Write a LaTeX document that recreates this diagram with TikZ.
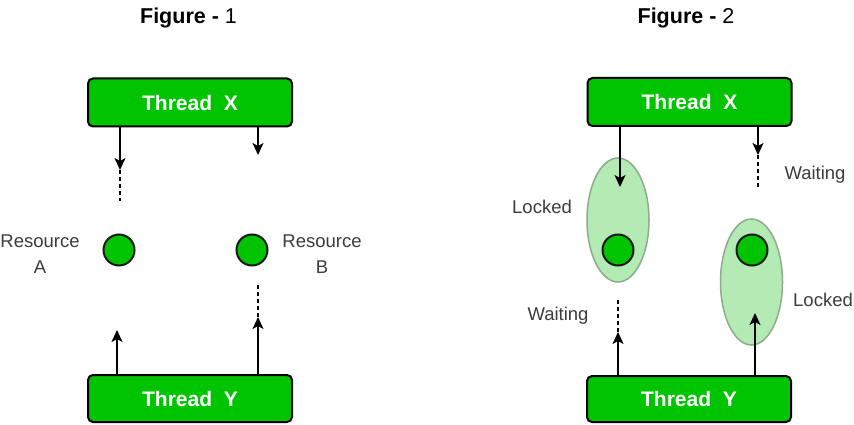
\documentclass[tikz,border=0pt]{standalone}
\usepackage{fontspec}
\setmainfont{Liberation Sans}
\usetikzlibrary{shapes.geometric,arrows.meta}
\definecolor{boxgreen}{RGB}{0,196,0}
\definecolor{ellfill}{RGB}{180,234,180}
\definecolor{elldraw}{RGB}{140,172,140}
\definecolor{labgray}{RGB}{60,60,60}
\tikzset{
  threadbox/.style={draw=black, line width=2pt, fill=boxgreen, rounded corners=5pt,
    minimum width=204pt, minimum height=48pt, inner sep=0pt, text=white,
    font=\fontsize{21}{25}\selectfont\bfseries},
  resdot/.style={circle, draw=black!90, line width=2pt, fill=boxgreen, minimum size=31pt, inner sep=0pt},
  lockell/.style={ellipse, draw=elldraw, line width=1.5pt, fill=ellfill, inner sep=0pt},
  arr/.style={line width=1.3pt, -{Stealth[length=12pt,width=11pt,inset=3pt]}},
  dashline/.style={line width=1.2pt, dash pattern=on 4pt off 3pt},
  lbl/.style={text=labgray, font=\fontsize{18.5}{26}\selectfont, align=center, inner sep=0pt},
  title/.style={text=black, font=\fontsize{21.5}{25}\selectfont, inner sep=0pt}
}
\begin{document}
\begin{tikzpicture}[x=1pt,y=-1pt]
\useasboundingbox (0,0) rectangle (854,425);
\fill[white] (0,0) rectangle (854,425);
% titles
\node[title] (t1) at (188.5,18) {\textbf{Figure -} 1};
\node[title] (t2) at (686,18) {\textbf{Figure -} 2};
% ---------- Figure 1 ----------
\node[threadbox] (tx1) at (190,102.5) {Thread\ \ X};
\node[threadbox, minimum height=47pt] (ty1) at (190,398.5) {Thread\ \ Y};
\node[resdot] (ra) at (119,250) {};
\node[resdot] (rb) at (252,250) {};
\node[lbl] (la) at (40,254) {Resource\\A};
\node[lbl] (lb) at (322,254) {Resource\\B};
\coordinate (a1) at (120,170);
\coordinate (a1e) at (120,201);
\coordinate (a2) at (258,155);
\coordinate (a3) at (117,330);
\coordinate (a4) at (258,317);
\coordinate (a4e) at (258,282);
\draw[arr] (tx1.south -| a1) -- (a1);
\draw[dashline] (a1) -- (a1e);
\draw[arr] (tx1.south -| a2) -- (a2);
\draw[arr] (ty1.north -| a3) -- (a3);
\draw[arr] (ty1.north -| a4) -- (a4);
\draw[dashline] (a4) -- (a4e);
% ---------- Figure 2 ----------
\node[threadbox] (tx2) at (689.5,102) {Thread\ \ X};
\node[threadbox, minimum height=46pt] (ty2) at (689,399) {Thread\ \ Y};
\node[lockell, minimum width=62pt, minimum height=124pt] (e1) at (618,220) {};
\node[lockell, minimum width=62pt, minimum height=126pt] (e2) at (751.5,282) {};
\node[resdot] (rc) at (618,250) {};
\node[resdot] (rd) at (752,250) {};
\node[lbl] (l1) at (542,207) {Locked};
\node[lbl] (w1) at (815,175) {Waiting};
\node[lbl] (w2) at (558,316) {Waiting};
\node[lbl] (l2) at (823,300) {Locked};
\coordinate (b1) at (620,187);
\coordinate (b2) at (758,155);
\coordinate (b2e) at (758,188);
\coordinate (b3) at (618,332);
\coordinate (b3e) at (618,297);
\coordinate (b4) at (755,313);
\draw[arr] (tx2.south -| b1) -- (b1);
\draw[arr] (tx2.south -| b2) -- (b2);
\draw[dashline] (b2) -- (b2e);
\draw[arr] (ty2.north -| b3) -- (b3);
\draw[dashline] (b3) -- (b3e);
\draw[arr] (ty2.north -| b4) -- (b4);
\end{tikzpicture}
\end{document}
